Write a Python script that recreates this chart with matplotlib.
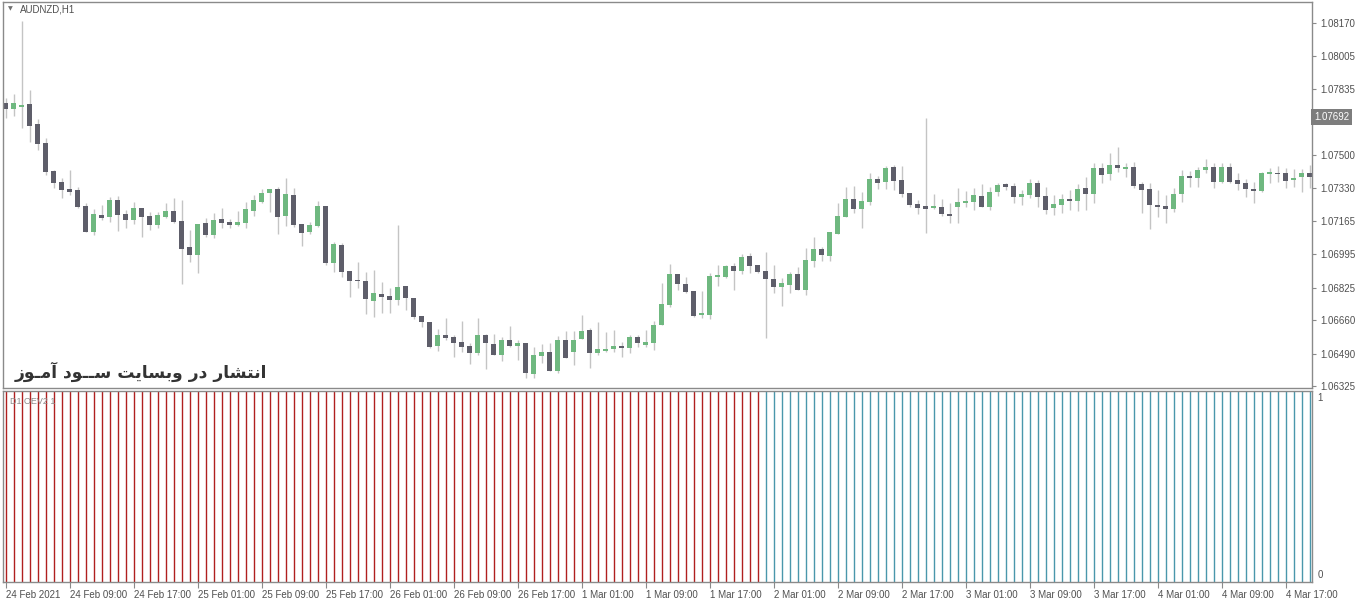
import matplotlib
matplotlib.use("Agg")
import matplotlib.pyplot as plt
import matplotlib.transforms as mtransforms

# AUDNZD H1 candles, 24 Feb 2021 01:00 .. 4 Mar 2021 20:00
opens = [
    1.07764, 1.07734, 1.07745, 1.07758, 1.07657, 1.07560, 1.07419, 1.07363, 1.07328, 1.07321,
    1.07240, 1.07108, 1.07194, 1.07185, 1.07270, 1.07199, 1.07170, 1.07231, 1.07189, 1.07143,
    1.07185, 1.07214, 1.07164, 1.07031, 1.06991, 1.07152, 1.07092, 1.07174, 1.07159, 1.07145,
    1.07155, 1.07216, 1.07262, 1.07305, 1.07326, 1.07189, 1.07296, 1.07148, 1.07109, 1.07140,
    1.07240, 1.06952, 1.07042, 1.06911, 1.06865, 1.06859, 1.06759, 1.06791, 1.06782, 1.06762,
    1.06833, 1.06771, 1.06681, 1.06650, 1.06530, 1.06584, 1.06576, 1.06547, 1.06528, 1.06494,
    1.06584, 1.06538, 1.06482, 1.06559, 1.06530, 1.06545, 1.06384, 1.06479, 1.06498, 1.06401,
    1.06559, 1.06499, 1.06562, 1.06610, 1.06494, 1.06504, 1.06511, 1.06530, 1.06520, 1.06572,
    1.06533, 1.06545, 1.06635, 1.06737, 1.06894, 1.06843, 1.06808, 1.06687, 1.06687, 1.06881,
    1.06881, 1.06935, 1.06911, 1.06986, 1.06940, 1.06911, 1.06869, 1.06830, 1.06838, 1.06894,
    1.06813, 1.06960, 1.07020, 1.06986, 1.07098, 1.07185, 1.07276, 1.07225, 1.07262, 1.07377,
    1.07363, 1.07437, 1.07372, 1.07305, 1.07249, 1.07240, 1.07231, 1.07236, 1.07199, 1.07233,
    1.07257, 1.07262, 1.07291, 1.07236, 1.07310, 1.07352, 1.07343, 1.07287, 1.07296, 1.07358,
    1.07291, 1.07231, 1.07245, 1.07276, 1.07267, 1.07330, 1.07301, 1.07432, 1.07401, 1.07448,
    1.07428, 1.07437, 1.07352, 1.07326, 1.07245, 1.07240, 1.07225, 1.07299, 1.07392, 1.07384,
    1.07423, 1.07437, 1.07363, 1.07437, 1.07372, 1.07358, 1.07326, 1.07318, 1.07403, 1.07409,
    1.07406, 1.07372, 1.07386, 1.07406,
]
highs = [
    1.07789, 1.07809, 1.08180, 1.07830, 1.07682, 1.07586, 1.07423, 1.07381, 1.07423, 1.07338,
    1.07254, 1.07225, 1.07245, 1.07287, 1.07291, 1.07220, 1.07262, 1.07231, 1.07208, 1.07211,
    1.07254, 1.07279, 1.07270, 1.07118, 1.07148, 1.07177, 1.07206, 1.07231, 1.07174, 1.07214,
    1.07262, 1.07296, 1.07325, 1.07326, 1.07338, 1.07381, 1.07333, 1.07148, 1.07157, 1.07265,
    1.07240, 1.07057, 1.07053, 1.06911, 1.06957, 1.06906, 1.06915, 1.06852, 1.06822, 1.07143,
    1.06833, 1.06771, 1.06681, 1.06650, 1.06613, 1.06672, 1.06584, 1.06655, 1.06542, 1.06669,
    1.06589, 1.06589, 1.06572, 1.06631, 1.06559, 1.06545, 1.06525, 1.06538, 1.06545, 1.06579,
    1.06606, 1.06606, 1.06686, 1.06618, 1.06652, 1.06601, 1.06610, 1.06550, 1.06584, 1.06584,
    1.06610, 1.06657, 1.06847, 1.06945, 1.06894, 1.06881, 1.06808, 1.06808, 1.06898, 1.06940,
    1.06940, 1.06952, 1.06996, 1.07000, 1.06940, 1.07008, 1.06940, 1.06872, 1.06903, 1.06931,
    1.07025, 1.07081, 1.07033, 1.07109, 1.07254, 1.07338, 1.07343, 1.07310, 1.07406, 1.07392,
    1.07443, 1.07448, 1.07443, 1.07305, 1.07270, 1.07686, 1.07299, 1.07274, 1.07254, 1.07333,
    1.07318, 1.07330, 1.07352, 1.07336, 1.07358, 1.07358, 1.07358, 1.07321, 1.07376, 1.07372,
    1.07338, 1.07296, 1.07299, 1.07321, 1.07350, 1.07386, 1.07457, 1.07457, 1.07508, 1.07541,
    1.07460, 1.07465, 1.07363, 1.07358, 1.07321, 1.07296, 1.07330, 1.07423, 1.07418, 1.07437,
    1.07477, 1.07457, 1.07457, 1.07460, 1.07406, 1.07376, 1.07363, 1.07414, 1.07432, 1.07443,
    1.07432, 1.07426, 1.07426, 1.07448,
]
lows = [
    1.07687, 1.07697, 1.07638, 1.07564, 1.07525, 1.07398, 1.07333, 1.07282, 1.07296, 1.07228,
    1.07109, 1.07092, 1.07169, 1.07157, 1.07114, 1.07127, 1.07148, 1.07081, 1.07118, 1.07127,
    1.07177, 1.07152, 1.06842, 1.06957, 1.06898, 1.07084, 1.07079, 1.07127, 1.07127, 1.07140,
    1.07130, 1.07189, 1.07254, 1.07211, 1.07098, 1.07140, 1.07135, 1.07037, 1.07096, 1.07135,
    1.06940, 1.06906, 1.06881, 1.06776, 1.06822, 1.06691, 1.06677, 1.06694, 1.06694, 1.06737,
    1.06711, 1.06664, 1.06626, 1.06517, 1.06504, 1.06559, 1.06471, 1.06499, 1.06437, 1.06482,
    1.06411, 1.06482, 1.06454, 1.06525, 1.06457, 1.06364, 1.06364, 1.06443, 1.06401, 1.06393,
    1.06469, 1.06432, 1.06562, 1.06415, 1.06482, 1.06499, 1.06499, 1.06471, 1.06491, 1.06525,
    1.06525, 1.06508, 1.06635, 1.06728, 1.06813, 1.06796, 1.06677, 1.06669, 1.06664, 1.06835,
    1.06872, 1.06813, 1.06894, 1.06898, 1.06898, 1.06567, 1.06796, 1.06732, 1.06796, 1.06813,
    1.06788, 1.06931, 1.06960, 1.06960, 1.07098, 1.07185, 1.07203, 1.07127, 1.07245, 1.07326,
    1.07326, 1.07321, 1.07284, 1.07236, 1.07199, 1.07101, 1.07225, 1.07189, 1.07152, 1.07152,
    1.07236, 1.07220, 1.07233, 1.07220, 1.07291, 1.07321, 1.07254, 1.07245, 1.07279, 1.07236,
    1.07199, 1.07194, 1.07206, 1.07220, 1.07216, 1.07220, 1.07257, 1.07355, 1.07372, 1.07414,
    1.07386, 1.07330, 1.07203, 1.07122, 1.07185, 1.07155, 1.07211, 1.07262, 1.07338, 1.07338,
    1.07406, 1.07330, 1.07355, 1.07355, 1.07321, 1.07287, 1.07254, 1.07313, 1.07355, 1.07363,
    1.07330, 1.07338, 1.07313, 1.07330,
]
closes = [
    1.07733, 1.07762, 1.07753, 1.07648, 1.07555, 1.07414, 1.07357, 1.07321, 1.07313, 1.07233,
    1.07109, 1.07199, 1.07180, 1.07270, 1.07194, 1.07169, 1.07228, 1.07185, 1.07143, 1.07194,
    1.07214, 1.07160, 1.07021, 1.06991, 1.07148, 1.07092, 1.07169, 1.07155, 1.07145, 1.07159,
    1.07225, 1.07270, 1.07306, 1.07326, 1.07185, 1.07301, 1.07143, 1.07104, 1.07143, 1.07240,
    1.06949, 1.07047, 1.06906, 1.06860, 1.06859, 1.06766, 1.06796, 1.06779, 1.06762, 1.06827,
    1.06771, 1.06677, 1.06652, 1.06525, 1.06584, 1.06570, 1.06545, 1.06525, 1.06491, 1.06584,
    1.06542, 1.06482, 1.06559, 1.06530, 1.06545, 1.06389, 1.06482, 1.06498, 1.06401, 1.06559,
    1.06469, 1.06559, 1.06606, 1.06494, 1.06511, 1.06513, 1.06528, 1.06517, 1.06572, 1.06542,
    1.06550, 1.06635, 1.06740, 1.06894, 1.06842, 1.06804, 1.06682, 1.06694, 1.06884, 1.06886,
    1.06935, 1.06911, 1.06982, 1.06936, 1.06906, 1.06869, 1.06830, 1.06847, 1.06894, 1.06813,
    1.06965, 1.07020, 1.06991, 1.07109, 1.07189, 1.07276, 1.07225, 1.07265, 1.07377, 1.07358,
    1.07432, 1.07369, 1.07301, 1.07245, 1.07231, 1.07225, 1.07240, 1.07199, 1.07189, 1.07259,
    1.07267, 1.07296, 1.07236, 1.07313, 1.07347, 1.07338, 1.07287, 1.07301, 1.07358, 1.07287,
    1.07220, 1.07250, 1.07276, 1.07265, 1.07326, 1.07301, 1.07435, 1.07398, 1.07448, 1.07432,
    1.07437, 1.07342, 1.07321, 1.07245, 1.07236, 1.07225, 1.07301, 1.07392, 1.07384, 1.07423,
    1.07437, 1.07363, 1.07437, 1.07363, 1.07352, 1.07325, 1.07318, 1.07406, 1.07411, 1.07403,
    1.07369, 1.07381, 1.07406, 1.07386,
]

# D1 indicator: one signal per day, repeated on every hourly bar of that day
days = ["24 Feb", "25 Feb", "26 Feb", "1 Mar", "2 Mar", "3 Mar", "4 Mar"]
bars_per_day = [23, 24, 24, 24, 24, 24, 21]
day_signal = [-1, -1, -1, -1, 1, 1, 1]

# 1.07665 sits under the bid box, so it is left unlabelled
price_ticks = [1.08170, 1.08005, 1.07835, 1.07665, 1.07500, 1.07330, 1.07165,
               1.06995, 1.06825, 1.06660, 1.06490, 1.06325]
hidden_tick = 1.07665
time_labels = ["24 Feb 2021", "24 Feb 09:00", "24 Feb 17:00", "25 Feb 01:00", "25 Feb 09:00",
               "25 Feb 17:00", "26 Feb 01:00", "26 Feb 09:00", "26 Feb 17:00", "1 Mar 01:00",
               "1 Mar 09:00", "1 Mar 17:00", "2 Mar 01:00", "2 Mar 09:00", "2 Mar 17:00",
               "3 Mar 01:00", "3 Mar 09:00", "3 Mar 17:00", "4 Mar 01:00", "4 Mar 09:00",
               "4 Mar 17:00"]
bid_price = 1.07692

UP = "#6fb880"
DOWN = "#5e5e6a"
WICK = "#c4c4c4"
RED = "#b02020"
TEAL = "#4a97ab"
FRAME = "#8a8a8a"
TXT = "#505050"
FONT = ["Liberation Sans", "DejaVu Sans"]

plt.rcParams["font.family"] = FONT

W, H = 1360, 604
fig = plt.figure(figsize=(W / 100, H / 100), dpi=100)
fig.patch.set_facecolor("white")

n = len(opens)
x = list(range(n))
x0 = -2.5 / 8
x1 = x0 + 1309 / 8

# ---- price panel
ax = fig.add_axes([3 / W, 1 - 388 / H, 1309 / W, 386 / H])
ax.set_xlim(x0, x1)
ax.set_ylim(1.06315, 1.08277)

ax.vlines(x, lows, highs, color=WICK, lw=1, zorder=1)
bottoms = [min(o, c) for o, c in zip(opens, closes)]
heights = [max(abs(c - o), 0.00007) for o, c in zip(opens, closes)]
colors = [UP if c >= o else DOWN for o, c in zip(opens, closes)]
ax.bar(x, heights, bottom=bottoms, width=0.74, color=colors, lw=0, zorder=2)

ax.yaxis.tick_right()
ax.set_yticks(price_ticks)
ax.set_yticklabels(["" if p == hidden_tick else f"{p:.5f}" for p in price_ticks])
ax.tick_params(axis="y", length=3, width=0.8, color=FRAME, labelsize=7, labelcolor=TXT, pad=3)
ax.set_xticks([])
for s in ax.spines.values():
    s.set_color(FRAME)
    s.set_linewidth(1)

trans = mtransforms.blended_transform_factory(ax.transAxes, ax.transData)
ax.text(1.0015, bid_price, f"{bid_price:.5f}", transform=trans, fontsize=7, color="white",
        va="center", ha="left",
        bbox=dict(boxstyle="square,pad=0.3", facecolor="#7d7d7d", edgecolor="none"))

fig.text(8 / W, 1 - 9 / H, "\u25bc", fontsize=4.5, color="#707070", va="center", ha="left",
         family=["DejaVu Sans"])
fig.text(20 / W, 1 - 9 / H, "AUDNZD,H1", fontsize=7, color=TXT, va="center", ha="left")

# Persian watermark, written in presentation forms in visual order
watermark = ("\ufeaf\ufeee\u0640\ufee3\ufe81 "
             "\ufea9\ufeee\u0640\u0640\ufeb3 "
             "\ufe96\ufbfe\ufe8e\ufeb4\ufe91\ufeed "
             "\ufead\ufea9 "
             "\ufead\ufe8e\ufeb8\ufe98\ufee7\ufe8d")
fig.text(15 / W, 1 - 372 / H, watermark, fontsize=12.3, fontweight="bold", color="#333333",
         family=["DejaVu Sans"], va="center", ha="left")

# ---- indicator panel
ax2 = fig.add_axes([3 / W, 1 - 582 / H, 1309 / W, 191 / H])
ax2.set_xlim(x0, x1)
ax2.set_ylim(0, 1)
bar_colors = []
for cnt, sig in zip(bars_per_day, day_signal):
    bar_colors += [TEAL if sig > 0 else RED] * cnt
ax2.vlines(x, 0, 1, colors=bar_colors, lw=1)

ax2.set_yticks([])
ax2.set_xticks(list(range(0, n, 8))[:len(time_labels)])
ax2.set_xticklabels(time_labels, ha="left")
ax2.tick_params(axis="x", length=4, width=0.8, color=FRAME, labelsize=7, labelcolor=TXT, pad=2)
for s in ax2.spines.values():
    s.set_color(FRAME)
    s.set_linewidth(1)

ax2.text(1.004, 0.99, "1", transform=ax2.transAxes, fontsize=7, color=TXT, va="top", ha="left")
ax2.text(1.004, 0.01, "0", transform=ax2.transAxes, fontsize=7, color=TXT, va="bottom", ha="left")
ax2.text(0.005, 0.97, "D1 OEV2 1", transform=ax2.transAxes, fontsize=6.5, color="#8c8c8c",
         va="top", ha="left", zorder=5)

fig.savefig("out.png", dpi=100)
plt.close(fig)
